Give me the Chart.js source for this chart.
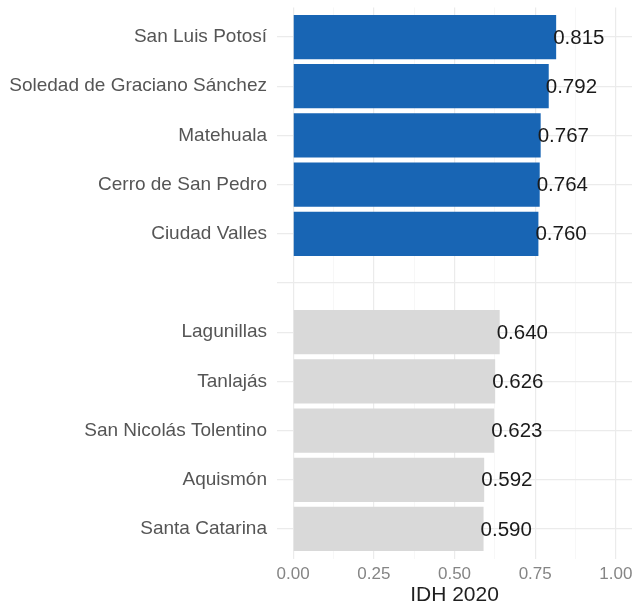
<!DOCTYPE html>
<html lang="es">
  <head>
    <meta charset="UTF-8" />
    <title>IDH 2020</title>
    <script src="https://cdn.jsdelivr.net/npm/chart.js"></script>
    <style>
      html,
      body {
        margin: 0;
        padding: 0;
        background: #ffffff;
      }
      .wrap {
        width: 634px;
        height: 606px;
      }
    </style>
  </head>
  <body>
    <div class="wrap">
      <canvas id="idhChart" width="634" height="606"></canvas>
    </div>

    <script>
      // municipalities, top to bottom ("" = empty row between groups)
      const municipios = [
        "San Luis Potosí",
        "Soledad de Graciano Sánchez",
        "Matehuala",
        "Cerro de San Pedro",
        "Ciudad Valles",
        "",
        "Lagunillas",
        "Tanlajás",
        "San Nicolás Tolentino",
        "Aquismón",
        "Santa Catarina",
      ];
      const idh2020 = [0.815, 0.792, 0.767, 0.764, 0.76, null, 0.64, 0.626, 0.623, 0.592, 0.59];
      const grupo = ["alto", "alto", "alto", "alto", "alto", null, "bajo", "bajo", "bajo", "bajo", "bajo"];

      const xMajorTicks = [0, 0.25, 0.5, 0.75, 1];
      const xTickLabels = ["0.00", "0.25", "0.50", "0.75", "1.00"];
      const xMinorTicks = [0.125, 0.375, 0.625, 0.875];

      const colores = { alto: "#1865b4", bajo: "#d9d9d9" };
      const fontFamily = "'Liberation Sans', Arial, sans-serif";

      // one point per row, skipping the empty one
      const points = [];
      municipios.forEach((m, i) => {
        if (idh2020[i] !== null) points.push({ x: idh2020[i], y: i + 1 });
      });
      const barColors = points.map((p) => colores[grupo[p.y - 1]]);

      // value labels next to the end of each bar
      const valueLabels = {
        id: "valueLabels",
        afterDatasetsDraw(chart) {
          const ctx = chart.ctx;
          const meta = chart.getDatasetMeta(0);
          ctx.save();
          ctx.font = "20.5px " + fontFamily;
          ctx.fillStyle = "#1a1a1a";
          ctx.textAlign = "left";
          ctx.textBaseline = "middle";
          meta.data.forEach((bar, i) => {
            ctx.fillText(points[i].x.toFixed(3), bar.x - 3, bar.y + 1);
          });
          ctx.restore();
        },
      };

      const allXTicks = xMajorTicks.concat(xMinorTicks).sort((a, b) => a - b);

      new Chart(document.getElementById("idhChart").getContext("2d"), {
        type: "bar",
        data: {
          datasets: [
            {
              label: "IDH 2020",
              data: points,
              backgroundColor: barColors,
              borderWidth: 0,
              barPercentage: 0.9,
              categoryPercentage: 1,
            },
          ],
        },
        options: {
          indexAxis: "y",
          responsive: false,
          animation: false,
          layout: { padding: { top: 7.5, right: 2, bottom: 0, left: 0 } },
          plugins: {
            legend: { display: false },
            tooltip: { enabled: false },
          },
          scales: {
            x: {
              type: "linear",
              min: -0.05,
              max: 1.05,
              afterBuildTicks: (scale) => {
                scale.ticks = allXTicks.map((v) => ({ value: v }));
              },
              afterFit: (scale) => {
                scale.height = 47.5;
                scale.paddingLeft = 0;
                scale.paddingRight = 0;
              },
              border: { display: false },
              grid: {
                drawTicks: false,
                color: (c) => (xMajorTicks.includes(c.tick.value) ? "#ebebeb" : "#f4f4f4"),
                lineWidth: (c) => (xMajorTicks.includes(c.tick.value) ? 1.2 : 0.7),
              },
              ticks: {
                autoSkip: false,
                maxRotation: 0,
                padding: 6,
                color: "#858585",
                font: { family: fontFamily, size: 17 },
                callback: (v) => {
                  const k = xMajorTicks.indexOf(v);
                  return k >= 0 ? xTickLabels[k] : "";
                },
              },
              title: {
                display: true,
                text: "IDH 2020",
                color: "#1f1f1f",
                padding: 0,
                font: { family: fontFamily, size: 21, lineHeight: 1 },
              },
            },
            y: {
              type: "linear",
              reverse: true,
              offset: false,
              min: 0.4,
              max: municipios.length + 0.6,
              afterBuildTicks: (scale) => {
                scale.ticks = municipios.map((m, i) => ({ value: i + 1 }));
              },
              afterFit: (scale) => {
                scale.width = 277;
                scale.paddingTop = 0;
                scale.paddingBottom = 0;
              },
              border: { display: false },
              grid: {
                offset: false,
                drawTicks: false,
                color: "#ebebeb",
                lineWidth: 1.2,
              },
              ticks: {
                autoSkip: false,
                padding: 10,
                color: "#555555",
                font: { family: fontFamily, size: 19 },
                callback: (v) => municipios[v - 1] || "",
              },
            },
          },
        },
        plugins: [valueLabels],
      });
    </script>
  </body>
</html>
